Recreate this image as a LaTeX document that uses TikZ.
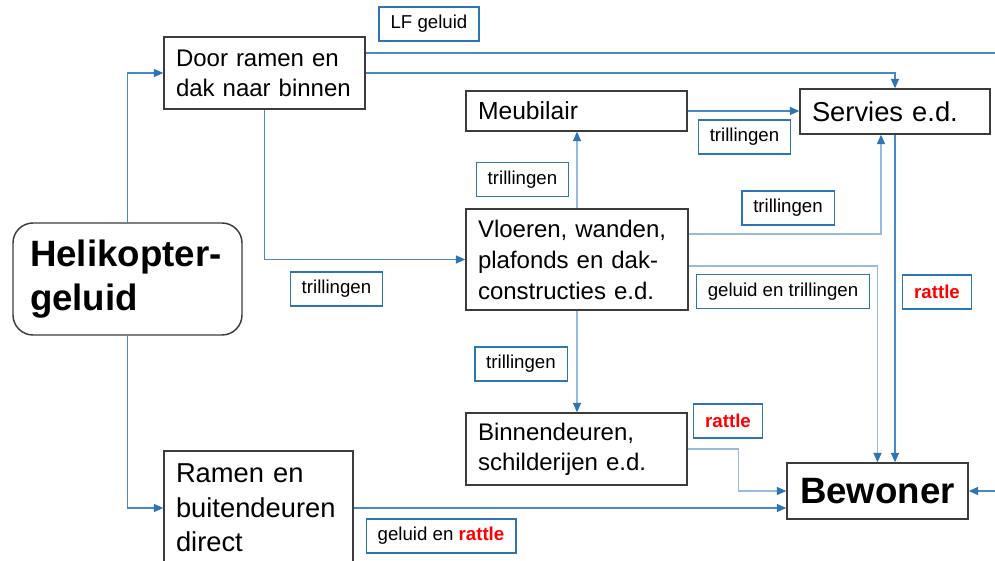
\documentclass[tikz,border=0pt]{standalone}
\usepackage{fontspec}
\setmainfont{Liberation Sans}
\usetikzlibrary{arrows.meta, positioning, calc}
\definecolor{lblblue}{HTML}{2E75B6}
\definecolor{lijnblauw}{HTML}{4A86C8}
\definecolor{lijnlicht}{HTML}{95BBE3}
\definecolor{randgrijs}{HTML}{3C3C3C}
\tikzset{
  blok/.style 2 args={draw=randgrijs, line width=1.1pt, inner sep=0pt,
    minimum width=#1*0.75pt, minimum height=#2*0.75pt},
  lbl/.style={draw=lblblue, line width=1.1pt, minimum height=25.5pt,
    inner xsep=8.6pt, inner ysep=0pt, font=\fontsize{14}{16}\selectfont},
  flow/.style={draw=lijnblauw, line width=0.9pt,
    -{Triangle[length=7pt, width=6pt, color=lblblue]}},
  flowlicht/.style={flow, draw=lijnlicht},
  lijn/.style={draw=lijnblauw, line width=0.9pt}
}
\newcommand{\rood}[1]{\textcolor{red}{\textbf{#1}}}

\begin{document}
\begin{tikzpicture}[x=0.75pt, y=-0.75pt]
  \useasboundingbox (0,0) rectangle (995,560);

  % blokken
  \node[blok={229}{112}, rounded corners=15pt, text width=195*0.75pt, align=left,
    font=\fontsize{27.5}{33}\selectfont\bfseries] (heli) at (127.5,279) {Helikopter-\\geluid};
  \node[blok={201}{72}, text width=177*0.75pt, align=left,
    font=\fontsize{18}{22.5}\selectfont] (door) at (264.5,73) {Door ramen en\\dak naar binnen};
  \node[blok={221}{40}, text width=197*0.75pt, align=left,
    font=\fontsize{18.5}{22}\selectfont] (meub) at (576.5,111) {Meubilair};
  \node[blok={190}{45}, text width=166*0.75pt, align=left,
    font=\fontsize{20.5}{24}\selectfont] (servies) at (895,111.5) {Servies e.d.};
  \node[blok={222}{101}, text width=198*0.75pt, align=left,
    font=\fontsize{18}{23.25}\selectfont] (vloer) at (577,259.5)
    {Vloeren, wanden,\\plafonds en dak-\\constructies e.d.};
  \node[blok={221}{72}, text width=197*0.75pt, align=left,
    font=\fontsize{18}{22.5}\selectfont] (binnen) at (576.5,449) {Binnendeuren,\\schilderijen e.d.};
  \node[blok={189}{114}, text width=165*0.75pt, align=left,
    font=\fontsize{20.5}{25.9}\selectfont] (ramen) at (258.5,508) {Ramen en\\buitendeuren\\direct};
  \node[blok={181}{56}, font=\fontsize{27.5}{33}\selectfont\bfseries] (bewoner) at (877.5,491) {Bewoner};

  % labels
  \node[lbl] (lf) at (429,24) {LF geluid};
  \node[lbl] (tr1) at (336.5,289) {trillingen};
  \node[lbl] (tr2) at (522.5,179.5) {trillingen};
  \node[lbl] (tr3) at (744.5,137) {trillingen};
  \node[lbl] (tr4) at (788,208) {trillingen};
  \node[lbl] (tr5) at (521,364) {trillingen};
  \node[lbl] (get) at (783,291.5) {geluid en trillingen};
  \node[lbl] (rat1) at (937,292) {\rood{rattle}};
  \node[lbl] (rat2) at (728,421) {\rood{rattle}};
  \node[lbl] (ger) at (441,536) {geluid en \rood{rattle}};

  % verbindingen
  \coordinate (lfuit) at (995,53);
  \coordinate (rechtsin) at (995,491);
  \draw[flow] (heli.north) |- (door.west);
  \draw[flow] (heli.south) |- (ramen.west);
  \draw[flow] (door.south) |- (vloer.west);
  \draw[flow] (door.east) -| (servies.north);
  \draw[lijn] (door.east |- lfuit) -- (lfuit);
  \draw[flow] (meub.east) -- (meub.east -| servies.west);
  \draw[flowlicht] (vloer.north) -- (vloer.north |- meub.south);
  \draw[flowlicht] ($(vloer.east)+(0,-25.5)$) -| ($(servies.south)+(-14,0)$);
  \draw[flowlicht] ($(vloer.east)+(0,6.5)$) -| (bewoner.north);
  \draw[flow] (servies.south) -- (servies.south |- bewoner.north);
  \draw[flowlicht] (vloer.south) -- (vloer.south |- binnen.north);
  \draw[flowlicht] (binnen.east) -- ++(51,0) |- (bewoner.west);
  \draw[flow] (ramen.east) -- (ramen.east -| bewoner.west);
  \draw[flow] (rechtsin) -- (bewoner.east);
\end{tikzpicture}
\end{document}
